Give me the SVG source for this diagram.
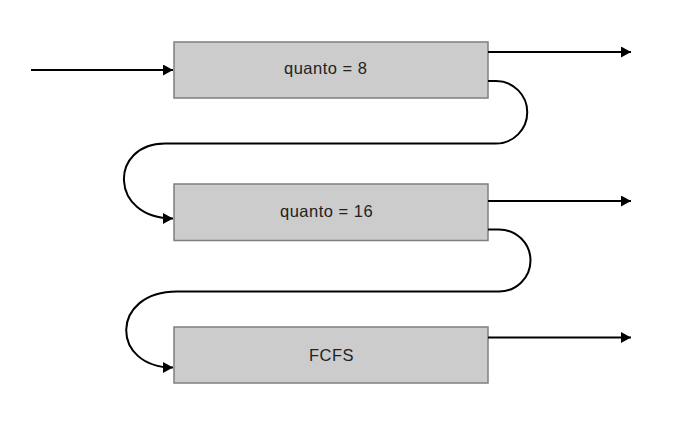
<svg xmlns="http://www.w3.org/2000/svg" width="676" height="428" viewBox="0 0 676 428">
  <style>
    .box { fill: #cccccc; stroke: #7f7f7f; stroke-width: 1.5; }
    .lbl { font-family: "Liberation Sans", Arial, sans-serif; font-size: 16.5px; fill: #222222; letter-spacing: 0.5px; }
    .conn { fill: none; stroke: #000000; stroke-width: 2; marker-end: url(#arrow); }
  </style>
  <defs>
    <marker id="arrow" markerUnits="userSpaceOnUse" markerWidth="11" markerHeight="11" refX="10" refY="5.5" orient="auto">
      <path d="M0,0 L10,5.5 L0,11 z" fill="#000000"/>
    </marker>
  </defs>
  <rect width="676" height="428" fill="#ffffff"/>
  <g id="node-q8">
    <rect class="box" x="174" y="42" width="314" height="56"/>
    <text class="lbl" x="284" y="74">quanto = 8</text>
  </g>
  <g id="node-q16">
    <rect class="box" x="174" y="184" width="314" height="56.5"/>
    <text class="lbl" x="280" y="217">quanto = 16</text>
  </g>
  <g id="node-fcfs">
    <rect class="box" x="174" y="327" width="314" height="56"/>
    <text class="lbl" x="309" y="361">FCFS</text>
  </g>
  <g id="connectors">
    <path class="conn" d="M31,70 H173"/>
    <path class="conn" d="M488,52 H631"/>
    <path class="conn" d="M488,201 H631"/>
    <path class="conn" d="M488,337.5 H631"/>
    <path class="conn" d="M488,81 H496 A31,31 0 0 1 496,143.5 H165 C109,143.5 109,218.5 173,218.5"/>
    <path class="conn" d="M488,229.5 H499 A31.5,31 0 0 1 499,291.5 H177 C110,291.5 110,367.5 173,367.5"/>
  </g>
</svg>
